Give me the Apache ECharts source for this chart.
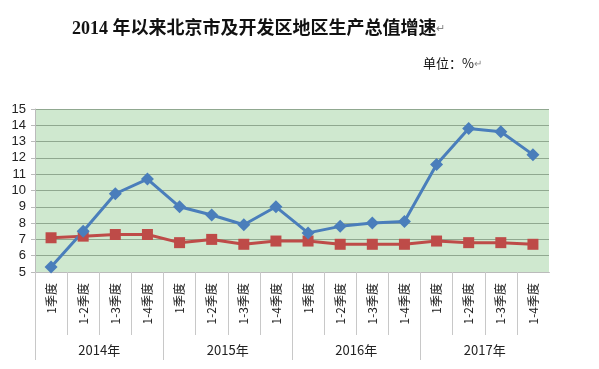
<!DOCTYPE html>
<html><head><meta charset="utf-8">
<script src="https://cdn.jsdelivr.net/npm/echarts@6/dist/echarts.min.js"></script>
<style>html,body{margin:0;padding:0;background:#fff}#c{width:599px;height:369px}</style>
</head><body><div id="c"></div>
<script>
var quarters = ['1季度','1-2季度','1-3季度','1-4季度','1季度','1-2季度','1-3季度','1-4季度','1季度','1-2季度','1-3季度','1-4季度','1季度','1-2季度','1-3季度','1-4季度'];
var years = ['2014年','2015年','2016年','2017年'];
var beijing = [5.3, 7.5, 9.8, 10.7, 9.0, 8.5, 7.9, 9.0, 7.4, 7.8, 8.0, 8.1, 11.6, 13.8, 13.6, 12.2];
var devZone = [7.1, 7.2, 7.3, 7.3, 6.8, 7.0, 6.7, 6.9, 6.9, 6.7, 6.7, 6.7, 6.9, 6.8, 6.8, 6.7];
var yTicks = [5, 15, 1];

var chart = echarts.init(document.getElementById('c'));
chart.setOption({
  backgroundColor: '#fff',
  animation: false,
  title: [{
    text: '2014 年以来北京市及开发区地区生产总值增速{m|↵}',
    left: 67, top: 15,
    textStyle: {fontFamily: '"Liberation Serif","Noto Sans CJK SC"', fontSize: 18, fontWeight: 'bold', color: '#111',
      rich: {m: {fontSize: 11, color: '#888', fontWeight: 'normal'}}}
  }, {
    text: '单位：%{m|↵}',
    left: 418, top: 52,
    textStyle: {fontFamily: '"Noto Sans CJK SC"', fontSize: 13, fontWeight: 'normal', color: '#111',
      rich: {m: {fontSize: 10, color: '#888'}}}
  }],
  grid: {left: 35, right: 50, top: 109, bottom: 97, show: true, backgroundColor: '#cfe8cf', borderWidth: 0},
  graphic: [{type: 'rect', left: 548, top: 273, shape: {width: 6, height: 92}, style: {fill: '#fff'}, z: 100}],
  xAxis: [{
    type: 'category', data: quarters, boundaryGap: true,
    axisLine: {show: true, lineStyle: {color: '#bbb'}},
    axisTick: {show: true, interval: 0, length: 63, lineStyle: {color: '#c8c8c8'}},
    axisLabel: {interval: 0, rotate: 90, margin: 11, fontSize: 12, color: '#222', fontFamily: '"Noto Sans CJK SC"'}
  }, {
    type: 'category', data: years, position: 'bottom', boundaryGap: true,
    axisLine: {show: false},
    axisTick: {show: true, interval: 0, length: 88, lineStyle: {color: '#c8c8c8'}},
    axisLabel: {margin: 72, fontSize: 13, color: '#222', fontFamily: '"Noto Sans CJK SC"'}
  }],
  yAxis: {
    type: 'value', min: yTicks[0], max: yTicks[1], interval: yTicks[2],
    axisLine: {show: true, lineStyle: {color: '#bbb'}},
    axisTick: {show: true, length: 4, lineStyle: {color: '#bbb'}},
    axisLabel: {fontSize: 13, color: '#222', margin: 9, fontFamily: '"Liberation Sans"'},
    splitLine: {show: true, lineStyle: {color: '#90a890', width: 1}}
  },
  series: [{
    name: '开发区', type: 'line', data: devZone, xAxisIndex: 0,
    symbol: 'rect', symbolSize: 11,
    lineStyle: {color: '#be4b48', width: 3},
    itemStyle: {color: '#be4b48'}
  }, {
    name: '北京市', type: 'line', data: beijing, xAxisIndex: 0,
    symbol: 'diamond', symbolSize: 13,
    lineStyle: {color: '#4a7ebb', width: 3},
    itemStyle: {color: '#4a7ebb'}
  }]
});
</script></body></html>
